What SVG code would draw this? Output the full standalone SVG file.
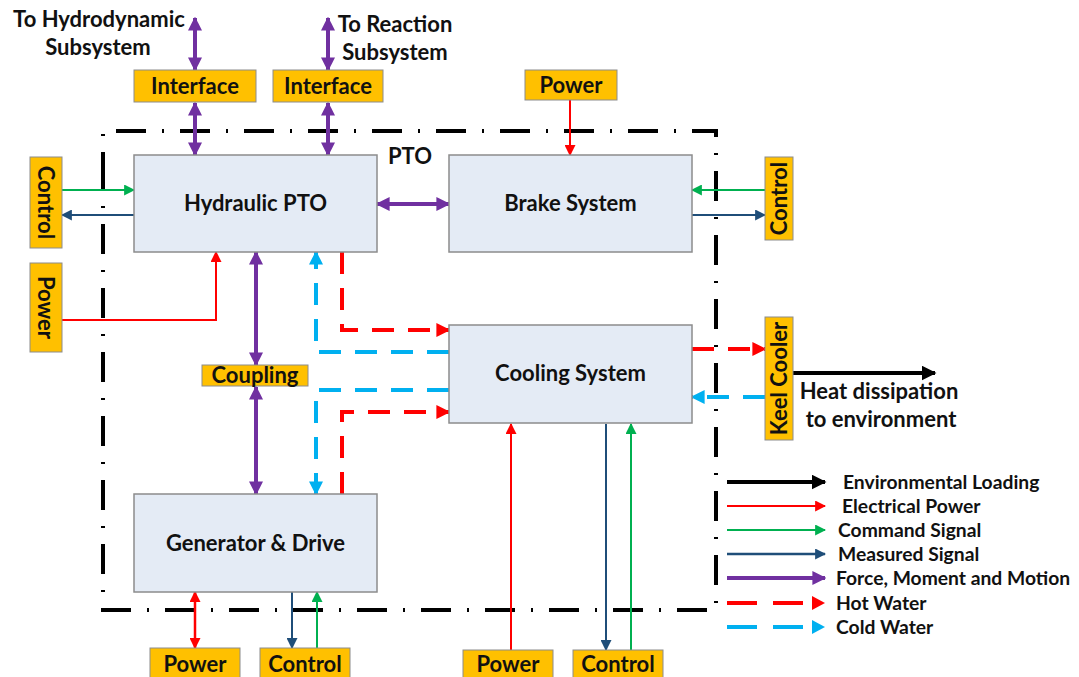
<svg xmlns="http://www.w3.org/2000/svg" width="1079" height="677" viewBox="0 0 1079 677">
<style>
.box{fill:#E4EBF5;stroke:#8C8C8C;stroke-width:1.5}
.tag{fill:#FFC000;stroke:#8C8C8C;stroke-width:1}
.t{font-family:Lato,"Open Sans",sans-serif;font-weight:bold;fill:#111;text-anchor:middle}
.big{font-size:22px}
.tg{font-size:22px}
.lg{font-family:Lato,"Open Sans",sans-serif;font-weight:bold;fill:#111;font-size:19.3px}
.pur{stroke:#7030A0;stroke-width:4;fill:none;marker-start:url(#mP);marker-end:url(#mP)}
.pur1{stroke:#7030A0;stroke-width:4;fill:none;marker-end:url(#mP)}
.red{stroke:#FF0000;stroke-width:2;fill:none;marker-end:url(#mR)}
.red2{stroke:#FF0000;stroke-width:2.5;fill:none;marker-start:url(#mR);marker-end:url(#mR)}
.grn{stroke:#00B050;stroke-width:2;fill:none;marker-end:url(#mG)}
.blu{stroke:#1F4E79;stroke-width:2;fill:none;marker-end:url(#mB)}
.hot{stroke:#FF0000;stroke-width:4;fill:none;stroke-dasharray:22 14;marker-end:url(#mH)}
.hotn{stroke:#FF0000;stroke-width:4;fill:none;stroke-dasharray:22 14}
.cold{stroke:#00B0F0;stroke-width:4;fill:none;stroke-dasharray:22 14;marker-end:url(#mC)}
.coldn{stroke:#00B0F0;stroke-width:4;fill:none;stroke-dasharray:22 14}
.blk{stroke:#000;stroke-width:4;fill:none;marker-end:url(#mK)}
.bnd{stroke:#000;stroke-width:4;fill:none;stroke-dasharray:30 16 2 16}
</style>
<defs>
<marker id="mP" viewBox="0 0 10 10" refX="9" refY="5" markerWidth="14" markerHeight="14" markerUnits="userSpaceOnUse" orient="auto-start-reverse"><path d="M0,0 L10,5 L0,10 z" fill="#7030A0"/></marker>
<marker id="mR" viewBox="0 0 10 10" refX="9" refY="5" markerWidth="11" markerHeight="11" markerUnits="userSpaceOnUse" orient="auto-start-reverse"><path d="M0,0 L10,5 L0,10 z" fill="#FF0000"/></marker>
<marker id="mG" viewBox="0 0 10 10" refX="9" refY="5" markerWidth="11" markerHeight="11" markerUnits="userSpaceOnUse" orient="auto-start-reverse"><path d="M0,0 L10,5 L0,10 z" fill="#00B050"/></marker>
<marker id="mB" viewBox="0 0 10 10" refX="9" refY="5" markerWidth="11" markerHeight="11" markerUnits="userSpaceOnUse" orient="auto-start-reverse"><path d="M0,0 L10,5 L0,10 z" fill="#1F4E79"/></marker>
<marker id="mH" viewBox="0 0 10 10" refX="9" refY="5" markerWidth="14" markerHeight="14" markerUnits="userSpaceOnUse" orient="auto-start-reverse"><path d="M0,0 L10,5 L0,10 z" fill="#FF0000"/></marker>
<marker id="mC" viewBox="0 0 10 10" refX="9" refY="5" markerWidth="14" markerHeight="14" markerUnits="userSpaceOnUse" orient="auto-start-reverse"><path d="M0,0 L10,5 L0,10 z" fill="#00B0F0"/></marker>
<marker id="mK" viewBox="0 0 10 10" refX="9" refY="5" markerWidth="15" markerHeight="15" markerUnits="userSpaceOnUse" orient="auto-start-reverse"><path d="M0,0 L10,5 L0,10 z" fill="#000"/></marker>
</defs>
<rect width="1079" height="677" fill="#fff"/>

<g id="boundary">
<path class="bnd" d="M103,160 L103,610 L716,610 L716,131 L103,131 Z"/>
<text class="t big" x="410" y="164">PTO</text>
</g>

<g id="connectors">
<line class="pur" x1="195" y1="18" x2="195" y2="70"/>
<line class="pur" x1="328" y1="18" x2="328" y2="70"/>
<line class="pur" x1="195" y1="103" x2="195" y2="155"/>
<line class="pur" x1="328" y1="103" x2="328" y2="155"/>
<line class="red" x1="570" y1="100" x2="570" y2="155"/>
<line class="grn" x1="62" y1="190" x2="134" y2="190"/>
<line class="blu" x1="134" y1="215" x2="62" y2="215"/>
<polyline class="red" points="62,320 216,320 216,252"/>
<line class="pur" x1="377" y1="204" x2="449" y2="204"/>
<line class="grn" x1="765" y1="190" x2="692" y2="190"/>
<line class="blu" x1="692" y1="215" x2="765" y2="215"/>
<line class="pur" x1="256" y1="252" x2="256" y2="365"/>
<line class="pur" x1="256" y1="387" x2="256" y2="494"/>
<polyline class="cold" points="449,352 316,352 316,252"/>
<polyline class="cold" points="449,390 316,390 316,494"/>
<polyline class="hot" points="342,252 342,330 449,330"/>
<polyline class="hot" points="342,494 342,412 449,412"/>
<line class="hot" x1="692" y1="349" x2="765" y2="349"/>
<line class="cold" x1="765" y1="397" x2="692" y2="397"/>
<line class="blk" x1="793" y1="373" x2="935" y2="373"/>
<line class="red" x1="511" y1="650" x2="511" y2="424"/>
<line class="blu" x1="606" y1="424" x2="606" y2="650"/>
<line class="grn" x1="631" y1="650" x2="631" y2="424"/>
<line class="red2" x1="195" y1="592" x2="195" y2="648"/>
<line class="blu" x1="292" y1="592" x2="292" y2="648"/>
<line class="grn" x1="317" y1="648" x2="317" y2="592"/>
</g>

<g id="hydraulic"><rect class="box" x="134" y="155" width="243" height="97"/><text class="t big" x="255.5" y="211">Hydraulic PTO</text></g>
<g id="brake"><rect class="box" x="449" y="155" width="243" height="97"/><text class="t big" x="570.5" y="211">Brake System</text></g>
<g id="cooling"><rect class="box" x="449" y="325" width="243" height="98"/><text class="t big" x="570.5" y="381">Cooling System</text></g>
<g id="generator"><rect class="box" x="134" y="494" width="243" height="98"/><text class="t big" x="255.5" y="551">Generator &amp; Drive</text></g>

<g id="iface1"><rect class="tag" x="134" y="70" width="122" height="32"/><text class="t tg" x="195" y="94">Interface</text></g>
<g id="iface2"><rect class="tag" x="273" y="70" width="110" height="32"/><text class="t tg" x="328" y="94">Interface</text></g>
<g id="hydro-label"><text class="t big" x="99" y="27">To Hydrodynamic</text><text class="t big" x="98" y="55">Subsystem</text></g>
<g id="reaction-label"><text class="t big" x="395" y="32">To Reaction</text><text class="t big" x="395" y="60">Subsystem</text></g>
<g id="power-top"><rect class="tag" x="525" y="70" width="92" height="30"/><text class="t tg" x="571" y="93">Power</text></g>
<g id="control-left"><rect class="tag" x="30" y="157" width="32" height="91"/><text class="t tg" transform="translate(38,202.5) rotate(90)">Control</text></g>
<g id="power-left"><rect class="tag" x="30" y="263" width="32" height="89"/><text class="t tg" transform="translate(38,307.5) rotate(90)">Power</text></g>
<g id="control-right"><rect class="tag" x="765" y="157" width="28" height="83"/><text class="t tg" transform="translate(787,198.5) rotate(-90)">Control</text></g>
<g id="coupling"><rect class="tag" x="202" y="365" width="106" height="21"/><text class="t tg" x="255" y="383">Coupling</text></g>
<g id="keel"><rect class="tag" x="765" y="317" width="28" height="123"/><text class="t tg" transform="translate(787,378.5) rotate(-90)">Keel Cooler</text></g>
<g id="heat-label"><text class="t big" x="879" y="399">Heat dissipation</text><text class="t big" x="881" y="427">to environment</text></g>
<g id="power-b1"><rect class="tag" x="150" y="648" width="90" height="32"/><text class="t tg" x="195" y="672">Power</text></g>
<g id="control-b1"><rect class="tag" x="260" y="648" width="90" height="32"/><text class="t tg" x="305" y="672">Control</text></g>
<g id="power-b2"><rect class="tag" x="463" y="650" width="90" height="30"/><text class="t tg" x="508" y="672">Power</text></g>
<g id="control-b2"><rect class="tag" x="573" y="650" width="90" height="30"/><text class="t tg" x="618" y="672">Control</text></g>

<g id="legend">
<line class="blk" x1="727" y1="482" x2="825" y2="482"/>
<line class="red" x1="727" y1="506" x2="825" y2="506"/>
<line class="grn" x1="727" y1="530" x2="825" y2="530"/>
<line class="blu" style="stroke-width:2.5" x1="727" y1="554" x2="825" y2="554"/>
<line class="pur1" x1="727" y1="578" x2="825" y2="578"/>
<line class="hotn" style="stroke-dasharray:30 16" x1="727" y1="603" x2="812" y2="603"/>
<path d="M812,596 L825,603 L812,610 z" fill="#FF0000"/>
<line class="coldn" style="stroke-dasharray:30 16" x1="727" y1="627" x2="812" y2="627"/>
<path d="M812,620 L825,627 L812,634 z" fill="#00B0F0"/>
<text class="lg" x="843" y="489">Environmental Loading</text>
<text class="lg" x="842" y="513">Electrical Power</text>
<text class="lg" x="838" y="537">Command Signal</text>
<text class="lg" x="838" y="561">Measured Signal</text>
<text class="lg" x="836" y="585">Force, Moment and Motion</text>
<text class="lg" x="836" y="610">Hot Water</text>
<text class="lg" x="836" y="634">Cold Water</text>
</g>
</svg>
